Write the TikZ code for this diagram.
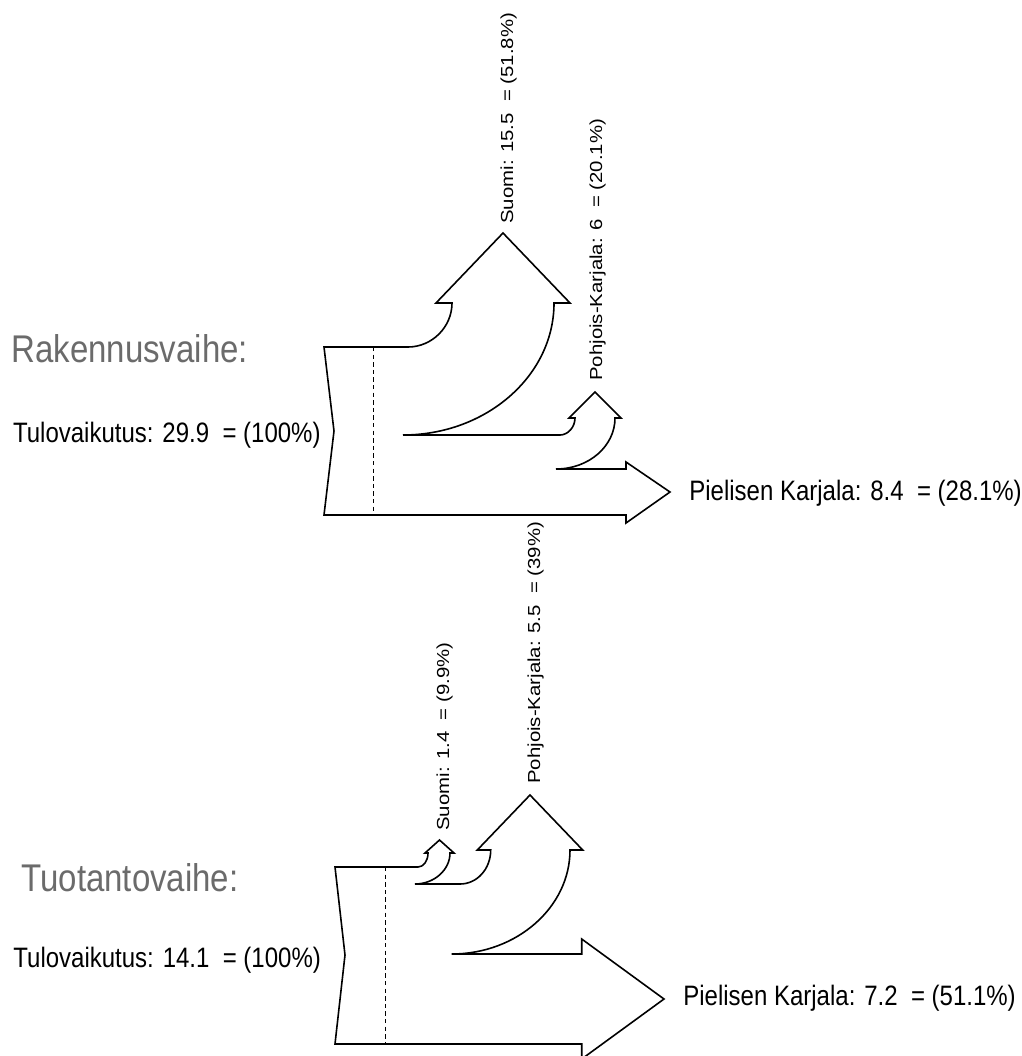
\documentclass[tikz,border=0pt]{standalone}
\usepackage{fontspec}
\setmainfont{Liberation Sans}
\usepackage{graphicx}
\usepackage{xcolor}
\usepackage{tikz}
\definecolor{titlegray}{HTML}{6B6B6B}
\newcommand{\tallbox}[1]{\scalebox{1}[1.17]{#1}}
\newcommand{\longbox}[1]{\scalebox{1.17}[1]{#1}}

\begin{document}
\begin{tikzpicture}[x=0.5pt, y=-0.5pt,
	flow/.style={draw, line width=0.8pt, line join=miter},
	cut/.style={draw, line width=0.45pt, dash pattern=on 2.2pt off 1.6pt},
	phase/.style={anchor=base west, inner sep=0pt, text=titlegray, font=\fontsize{16.5}{18}\selectfont},
	total/.style={anchor=base west, inner sep=0pt, font=\fontsize{12}{14}\selectfont},
	branch/.style={anchor=base west, inner sep=0pt, rotate=90, font=\fontsize{8.7}{10}\selectfont}]
	\clip (0,0) rectangle (1022,1056);
	% rakennusvaihe
	\draw[flow] (324,347) -- (408,347) .. controls (432,347) and (452,327) .. (452,303)
		-- (436,303) -- (503,233) -- (570,303) -- (554,303)
		.. controls (554,376) and (486,435) .. (403,435)
		-- (560,435) .. controls (568,435) and (575,427) .. (575,418)
		-- (569,418) -- (595,392) -- (621,418) -- (615,418)
		.. controls (615,446) and (589,469) .. (556,469)
		-- (626,469) -- (626,462) -- (670,492) -- (626,523) -- (626,515)
		-- (324,515) -- (334,431) -- cycle;
	\draw[cut] (373,347) -- (373,515);
	\node[phase] (rakennus) at (11,362) {\tallbox{Rakennusvaihe:}};
	\node[total] (tuloA) at (12.7,442) {\tallbox{Tulovaikutus: 29.9~~= (100\%)}};
	\node[branch] (suomiA) at (513,224) {\longbox{Suomi: 15.5~~= (51.8\%)}};
	\node[branch] (pkA) at (602,381) {\longbox{Pohjois-Karjala: 6~~= (20.1\%)}};
	\node[total] (pielisA) at (689,500) {\tallbox{Pielisen Karjala: 8.4~~= (28.1\%)}};
	% tuotantovaihe
	\draw[flow] (335,867) -- (418,867) .. controls (423.5,867) and (428,861) .. (428,853)
		-- (425,853) -- (439.5,840) -- (454,853) -- (450,853)
		.. controls (450,870) and (434,884) .. (415,884)
		-- (460,884) .. controls (477,884) and (490.7,869) .. (490.7,850)
		-- (477.3,850) -- (530,795) -- (582.7,850) -- (570,850)
		.. controls (570,907) and (517,954) .. (451.7,954)
		-- (581.7,954) -- (581.7,939) -- (664,999) -- (581.7,1059) -- (581.7,1044)
		-- (335,1044) -- (345,955) -- cycle;
	\draw[cut] (385,867) -- (385,1044);
	\node[phase] (tuotanto) at (21,891) {\tallbox{Tuotantovaihe:}};
	\node[total] (tuloB) at (13,967) {\tallbox{Tulovaikutus: 14.1~~= (100\%)}};
	\node[branch] (suomiB) at (449,831) {\longbox{Suomi: 1.4~~= (9.9\%)}};
	\node[branch] (pkB) at (540,784) {\longbox{Pohjois-Karjala: 5.5~~= (39\%)}};
	\node[total] (pielisB) at (683,1005) {\tallbox{Pielisen Karjala: 7.2~~= (51.1\%)}};
\end{tikzpicture}
\end{document}
